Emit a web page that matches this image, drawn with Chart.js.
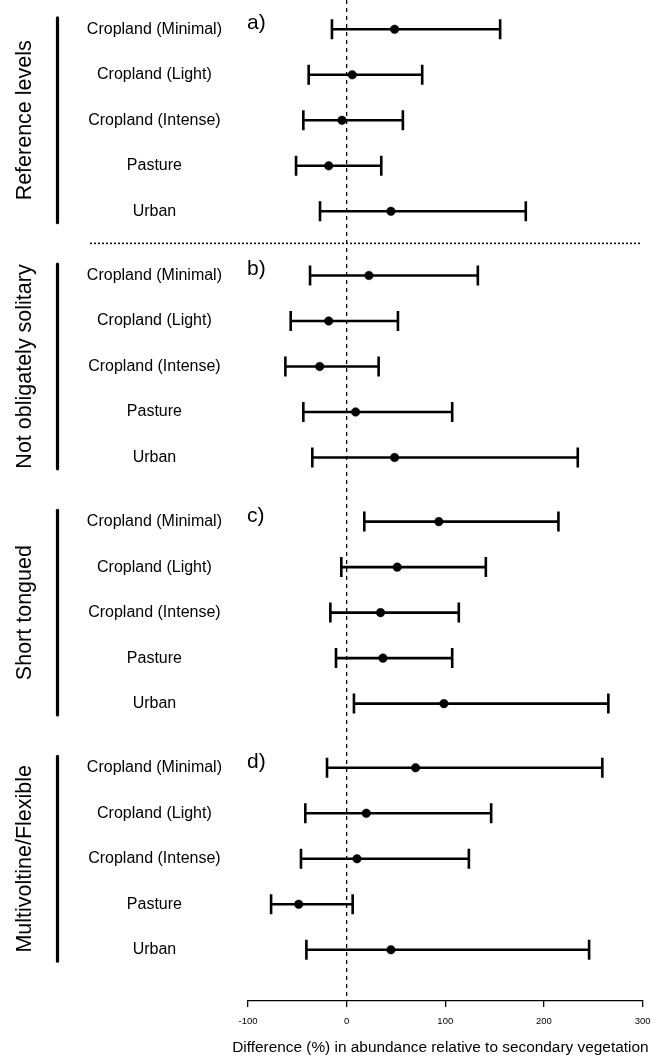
<!DOCTYPE html>
<html>
<head>
<meta charset="utf-8">
<script src="https://cdn.jsdelivr.net/npm/chart.js@4/dist/chart.umd.min.js"></script>
<style>
  html, body { margin: 0; padding: 0; background: #fff; }
  #wrap { width: 659px; height: 1061px; position: relative; }
</style>
</head>
<body>
<div id="wrap"><canvas id="c"></canvas></div>
<script>
// Panel headings and row labels
const panelLetters = ['a)', 'b)', 'c)', 'd)'];
const groupNames = ['Reference levels', 'Not obligately solitary', 'Short tongued', 'Multivoltine/Flexible'];
const landUses = ['Cropland (Minimal)', 'Cropland (Light)', 'Cropland (Intense)', 'Pasture', 'Urban'];
const xTicks = [-100, 0, 100, 200, 300];
const xTitle = 'Difference (%) in abundance relative to secondary vegetation';

// a) Reference levels: estimate and 95% interval
const estRef  = [48.6, 5.7, -4.7, -18.2, 44.9];
const lowRef  = [-14.9, -38.5, -43.9, -51.3, -27.0];
const highRef = [155.6, 76.6, 57.0, 35.1, 181.6];

// b) Not obligately solitary
const estSolitary  = [22.6, -18.2, -27.3, 9.1, 48.6];
const lowSolitary  = [-37.1, -56.7, -62.1, -43.9, -34.8];
const highSolitary = [133.0, 52.0, 32.4, 107.0, 234.3];

// c) Short tongued
const estTongue  = [93.5, 51.3, 34.4, 36.8, 98.6];
const lowTongue  = [17.9, -5.4, -16.5, -10.8, 7.4];
const highTongue = [214.7, 141.1, 113.7, 107.0, 265.3];

// d) Multivoltine/Flexible
const estVoltine  = [69.9, 19.9, 10.5, -48.6, 44.9];
const lowVoltine  = [-19.9, -41.9, -46.3, -76.6, -40.8];
const highVoltine = [259.2, 146.5, 123.9, 6.1, 245.8];

const panels = [
  { est: estRef, low: lowRef, high: highRef },
  { est: estSolitary, low: lowSolitary, high: highSolitary },
  { est: estTongue, low: lowTongue, high: highTongue },
  { est: estVoltine, low: lowVoltine, high: highVoltine }
];

const FONT = "'Liberation Sans', Arial, Helvetica, sans-serif";
const PANEL_STEP = 5.41;            // row slots taken by one panel, gap included
const rowPos = (p, r) => p * PANEL_STEP + r;

// one horizontal interval (with end caps) per row
const intervalSets = [];
panels.forEach((pd, p) => {
  landUses.forEach((name, r) => {
    intervalSets.push({
      label: groupNames[p] + ' - ' + name,
      data: [{ x: pd.low[r], y: rowPos(p, r) }, { x: pd.high[r], y: rowPos(p, r) }],
      showLine: true,
      borderColor: '#000',
      borderWidth: 2.6,
      pointStyle: 'line',
      rotation: 90,
      pointRadius: 10,
      pointBorderWidth: 2.6,
      pointBorderColor: '#000',
      pointBackgroundColor: '#000',
      order: 1
    });
  });
});

const estimateSet = {
  label: 'Estimate',
  data: panels.flatMap((pd, p) => pd.est.map((v, r) => ({ x: v, y: rowPos(p, r) }))),
  pointStyle: 'circle',
  pointRadius: 4.3,
  backgroundColor: '#000',
  borderColor: '#000',
  borderWidth: 0.5,
  order: 0
};

const rowTicks = panels.flatMap((pd, p) => landUses.map((n, r) => rowPos(p, r)));

// reference line at zero, panel separator, group brackets, letters, axis title
const decor = {
  id: 'decor',
  beforeDatasetsDraw(chart) {
    const { ctx, chartArea, scales: { x } } = chart;
    const x0 = x.getPixelForValue(0);
    ctx.save();
    ctx.strokeStyle = '#000';
    ctx.lineWidth = 1.3;
    ctx.setLineDash([4, 4]);
    ctx.beginPath();
    ctx.moveTo(x0, chartArea.top);
    ctx.lineTo(x0, chartArea.bottom);
    ctx.stroke();
    ctx.restore();
  },
  afterDraw(chart) {
    const { ctx, scales: { x, y } } = chart;
    ctx.save();
    ctx.fillStyle = '#000';
    ctx.strokeStyle = '#000';

    // dotted divider under the reference panel
    const ySep = y.getPixelForValue((4 + PANEL_STEP) / 2);
    ctx.lineWidth = 1.5;
    ctx.setLineDash([2, 2]);
    ctx.beginPath();
    ctx.moveTo(90, ySep);
    ctx.lineTo(x.getPixelForValue(300) - 2, ySep);
    ctx.stroke();
    ctx.setLineDash([]);

    panels.forEach((pd, p) => {
      const yTop = y.getPixelForValue(rowPos(p, 0) - 0.25);
      const yBot = y.getPixelForValue(rowPos(p, 4) + 0.25);
      const yMid = y.getPixelForValue(rowPos(p, 2));

      // bracket line
      ctx.lineWidth = 3.2;
      ctx.lineCap = 'round';
      ctx.beginPath();
      ctx.moveTo(57.5, yTop);
      ctx.lineTo(57.5, yBot);
      ctx.stroke();

      // group name, rotated
      ctx.save();
      ctx.translate(25, yMid);
      ctx.rotate(-Math.PI / 2);
      ctx.font = '21.5px ' + FONT;
      ctx.textAlign = 'center';
      ctx.textBaseline = 'middle';
      ctx.fillText(groupNames[p], 0, 0);
      ctx.restore();

      // panel letter
      ctx.font = '21px ' + FONT;
      ctx.textAlign = 'left';
      ctx.textBaseline = 'alphabetic';
      ctx.fillText(panelLetters[p], x.getPixelForValue(-100) - 1, y.getPixelForValue(rowPos(p, 0)));
    });

    // x-axis title, allowed to run wider than the plot
    ctx.font = '15.4px ' + FONT;
    ctx.textAlign = 'center';
    ctx.textBaseline = 'middle';
    ctx.fillText(xTitle, x.getPixelForValue(95), x.bottom - 13);
    ctx.restore();
  }
};

new Chart(document.getElementById('c'), {
  type: 'scatter',
  data: { datasets: [...intervalSets, estimateSet] },
  options: {
    responsive: true,
    maintainAspectRatio: false,
    animation: false,
    events: [],
    layout: { autoPadding: false, padding: { left: 0, right: 15, top: 0, bottom: 0 } },
    plugins: { legend: { display: false }, tooltip: { enabled: false } },
    scales: {
      x: {
        type: 'linear',
        position: 'bottom',
        min: -100,
        max: 300,
        afterBuildTicks: (scale) => { scale.ticks = xTicks.map(v => ({ value: v })); },
        afterFit: (scale) => { scale.height = 60; },
        grid: { display: true, drawOnChartArea: false, drawTicks: true, tickLength: 6, color: '#000', lineWidth: 1.3 },
        border: { display: true, color: '#000', width: 1.3 },
        ticks: { color: '#000', font: { family: FONT, size: 9.5 }, padding: 8.5, maxRotation: 0 },
        title: { display: false }
      },
      y: {
        type: 'linear',
        reverse: true,
        min: -0.644,
        max: 21.356,
        afterBuildTicks: (scale) => { scale.ticks = rowTicks.map(v => ({ value: v })); },
        afterFit: (scale) => {
          scale.width = 248;
          // labels sit well inside the plot, so no extra room above/below
          scale.paddingTop = 0;
          scale.paddingBottom = 0;
        },
        grid: { display: false, drawTicks: false },
        border: { display: false },
        ticks: {
          autoSkip: false,
          crossAlign: 'center',
          padding: 26,
          color: '#000',
          font: { family: FONT, size: 16 },
          callback: (v, i) => landUses[i % landUses.length]
        }
      }
    }
  },
  plugins: [decor]
});
</script>
</body>
</html>
